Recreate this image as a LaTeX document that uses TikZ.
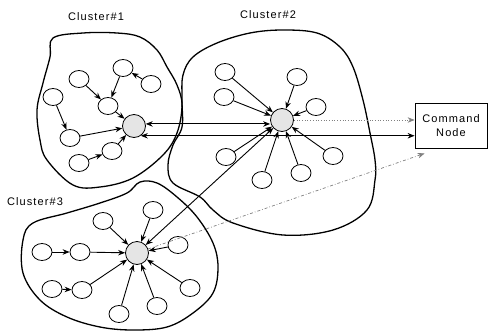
\documentclass[tikz,border=0pt]{standalone}
\usepackage{fontspec}
\setmainfont{Liberation Sans}
\newfontfamily\lblfont[LetterSpace=10]{Liberation Sans}
\usepackage{tikz}
\usetikzlibrary{shapes.geometric, arrows.meta, positioning, calc}

\begin{document}
\begin{tikzpicture}[
    x=1pt, y=-1pt,
    member/.style={ellipse, draw, thick, minimum width=20pt, minimum height=17pt, inner sep=0pt},
    head/.style={circle, draw, thick, minimum size=23pt, inner sep=0pt, fill=gray!20},
    command/.style={rectangle, draw, thick, minimum width=72pt, minimum height=45pt, align=center, font=\lblfont\fontsize{11}{14}\selectfont},
    label/.style={font=\lblfont\fontsize{11}{13}\selectfont},
    blob/.style={line width=1.3pt},
    arrow/.style={-{Stealth[length=7pt,width=5.5pt]}, line width=0.9pt},
    both/.style={{Stealth[length=7pt,width=5.5pt]}-{Stealth[length=7pt,width=5.5pt]}, line width=0.9pt},
    link/.style={-{Stealth[length=7pt,width=5.5pt]}, line width=0.7pt, gray}
]
    \useasboundingbox (0,0) rectangle (489,332);

    % cluster outlines
    \draw[blob] plot[smooth cycle, tension=0.6] coordinates {(53,38) (83,33) (117,33) (140,37) (157,50) (167,67) (177,85) (182,105) (177,133) (163,155) (133,178) (100,187) (73,185) (47,160) (40,140) (37,110) (43,83) (50,57)};
    \draw[blob] plot[smooth cycle, tension=0.6] coordinates {(183,75) (193,57) (217,43) (250,33) (283,30) (317,33) (340,47) (353,67) (363,100) (370,133) (375,160) (375,180) (367,210) (333,230) (283,235) (233,223) (213,210) (200,197) (173,183) (168,165) (173,145) (182,127) (182,100)};
    \draw[blob] plot[smooth cycle, tension=0.6] coordinates {(127,193) (140,182) (157,183) (177,197) (197,217) (213,243) (218,267) (213,293) (193,313) (167,327) (133,330) (100,327) (67,317) (40,300) (23,273) (23,240) (33,223) (67,213) (100,203)};

    \node[label] (c1) at (96,17) {Cluster\#1};
    \node[label] (c2) at (268,15) {Cluster\#2};
    \node[label] (c3) at (35,202) {Cluster\#3};

    % cluster 1
    \node[head] (hub1) at (134,126) {};
    \node[member] (a1) at (79,79) {};
    \node[member] (a2) at (123,68) {};
    \node[member] (a3) at (151,84) {};
    \node[member] (a4) at (53,97) {};
    \node[member] (a5) at (108,106) {};
    \node[member] (a6) at (70,138) {};
    \node[member] (a7) at (112,151) {};
    \node[member] (a8) at (79,163) {};

    % cluster 2
    \node[head] (hub2) at (282,120) {};
    \node[member] (b1) at (225,72) {};
    \node[member] (b2) at (224,97) {};
    \node[member] (b3) at (297,77) {};
    \node[member] (b4) at (316,107) {};
    \node[member] (b5) at (226,157) {};
    \node[member] (b6) at (262,180) {};
    \node[member] (b7) at (301,173) {};
    \node[member] (b8) at (333,156) {};

    % cluster 3
    \node[head] (hub3) at (137,253) {};
    \node[member] (d1) at (103,221) {};
    \node[member] (d2) at (153,210) {};
    \node[member] (d3) at (178,245) {};
    \node[member] (d4) at (42,252) {};
    \node[member] (d5) at (80,252) {};
    \node[member] (d6) at (52,289) {};
    \node[member] (d7) at (82,290) {};
    \node[member] (d8) at (190,288) {};
    \node[member] (d9) at (157,306) {};
    \node[member] (d10) at (119,314) {};

    \node[command] (cmd) at (451,125.5) {Command\\Node};
    \coordinate (cmdin) at ([xshift=10pt,yshift=-5pt]cmd.south west);

    \draw[arrow] (a1) -- (a5);
    \draw[arrow] (a2) -- (a5);
    \draw[arrow] (a3) -- (a2);
    \draw[arrow] (a5) -- (hub1);
    \draw[arrow] (a4) -- (a6);
    \draw[arrow] (a6) -- (hub1);
    \draw[arrow] (a8) -- (a7);
    \draw[arrow] (a7) -- (hub1);

    \draw[arrow] (b1) -- (hub2);
    \draw[arrow] (b2) -- (hub2);
    \draw[arrow] (b3) -- (hub2);
    \draw[arrow] (b4) -- (hub2);
    \draw[arrow] (b5) -- (hub2);
    \draw[arrow] (b6) -- (hub2);
    \draw[arrow] (b7) -- (hub2);
    \draw[arrow] (b8) -- (hub2);

    \draw[arrow] (d4) -- (d5);
    \draw[arrow] (d5) -- (hub3);
    \draw[arrow] (d6) -- (d7);
    \draw[arrow] (d7) -- (hub3);
    \draw[arrow] (d1) -- (hub3);
    \draw[arrow] (d2) -- (hub3);
    \draw[arrow] (d3) -- (hub3);
    \draw[arrow] (d8) -- (hub3);
    \draw[arrow] (d9) -- (hub3);
    \draw[arrow] (d10) -- (hub3);

    % links between heads
    \draw[both] (hub1.10) -- (hub1.10 -| hub2.west);
    \draw[both] (hub1.-55) -- (hub1.-55 -| cmd.west);
    \draw[both] (hub2) -- (hub3);
    \draw[link, dotted] (hub2.east) -- (hub2.east -| cmd.west);
    \draw[link, dash dot] (hub3.20) -- (cmdin);
\end{tikzpicture}
\end{document}
